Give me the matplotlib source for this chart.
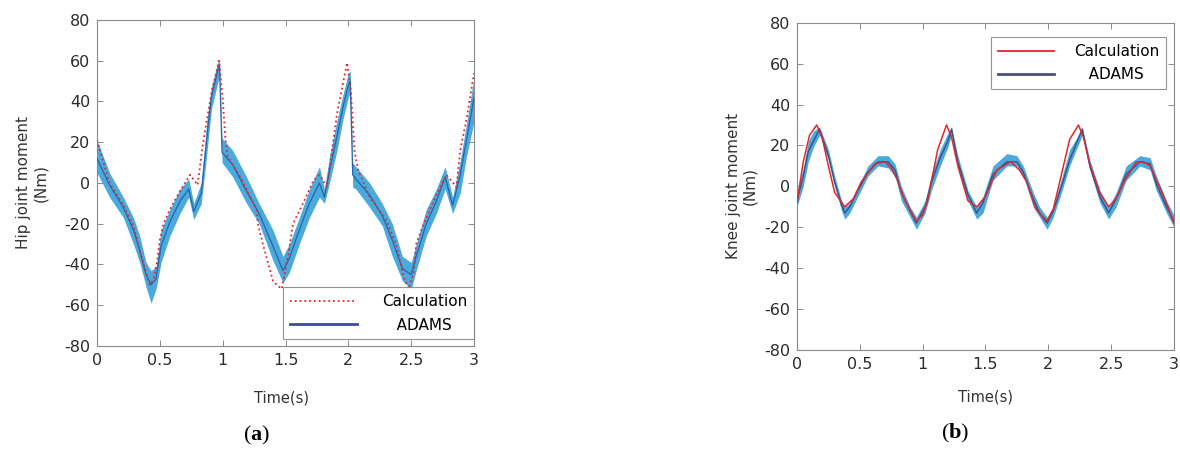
import matplotlib
matplotlib.use("Agg")
import matplotlib.pyplot as plt
from matplotlib.lines import Line2D

plt.rcParams["mathtext.fontset"] = "custom"
plt.rcParams["mathtext.rm"] = "Liberation Serif"
plt.rcParams["mathtext.bf"] = "Liberation Serif:bold"
plt.rcParams["axes.unicode_minus"] = False

# ---- (a) hip joint moment ----
hip_t_calc = [0, 0.1, 0.21, 0.29, 0.34, 0.39, 0.42, 0.45, 0.48, 0.5, 0.53, 0.58, 0.66,
              0.74, 0.8, 0.845, 0.91, 0.97, 1.0, 1.02, 1.04, 1.14, 1.27, 1.28, 1.32,
              1.40, 1.43, 1.47, 1.52, 1.56, 1.64, 1.72, 1.77, 1.83, 1.91, 1.99, 2.02,
              2.05, 2.08, 2.17, 2.3, 2.38, 2.44, 2.48, 2.52, 2.54, 2.6, 2.7, 2.78,
              2.86, 2.89, 2.94, 3.0]
hip_calc = [21, 0, -11, -21, -33, -44, -50, -47, -38, -28, -20, -13, -4,
            4, -1, 20, 44, 60, 42, 23, 13, 3, -13, -20, -30,
            -48, -50, -52, -36, -20, -10, 1, 4, -2, 34, 59, 45,
            15, 6, -7, -18, -30, -46, -52, -44, -30, -20, -6, 4,
            -2, 16, 31, 54]

hip_t_adams = [0, 0.1, 0.21, 0.29, 0.34, 0.39, 0.43, 0.47, 0.51, 0.58, 0.66, 0.73,
               0.77, 0.83, 0.875, 0.91, 0.96, 0.975, 0.995, 1.08, 1.19, 1.29, 1.40,
               1.48, 1.53, 1.61, 1.69, 1.77, 1.81, 1.85, 1.91, 1.96, 2.0, 2.015,
               2.035, 2.06, 2.17, 2.27, 2.35, 2.43, 2.5, 2.54, 2.62, 2.7, 2.77,
               2.83, 2.89, 2.94, 3.0]
hip_adams = [12, -1, -12, -23, -33, -45, -50, -47, -31, -19, -9, -3,
             -14, -5, 23, 42, 55, 58, 15, 9, -4, -15, -31,
             -43, -37, -23, -10, 0, -7, 6, 23, 38, 48, 50,
             4, 2, -6, -16, -28, -42, -45, -36, -20, -9, 3,
             -11, 4, 21, 42]
hip_adams_lo = [5, -7, -17, -30, -39, -51, -59, -52, -39, -26, -15, -7,
                -18, -10, 15, 36, 49, 52, 10, 3, -10, -20, -38,
                -49, -44, -30, -17, -7, -10, 0, 16, 32, 42, 44,
                -2, -3, -12, -21, -36, -48, -52, -43, -26, -15, -3,
                -15, -5, 13, 30]
hip_adams_hi = [21, 5, -7, -17, -26, -39, -43, -41, -23, -13, -3, 2,
                -10, 0, 31, 47, 59, 60, 22, 16, 3, -10, -23,
                -36, -30, -17, -3, 8, -3, 13, 31, 44, 54, 55,
                10, 8, 0, -10, -20, -36, -39, -30, -13, -3, 8,
                -7, 11, 29, 52]

# ---- (b) knee joint moment ----
knee_t_calc = [0, 0.05, 0.1, 0.157, 0.2, 0.25, 0.3, 0.38, 0.45, 0.51, 0.62, 0.7, 0.75,
               0.8, 0.86, 0.95, 1.0, 1.04, 1.12, 1.19, 1.23, 1.28, 1.36, 1.43, 1.5,
               1.59, 1.7, 1.77, 1.83, 1.9, 1.99, 2.04, 2.09, 2.17, 2.24, 2.28, 2.33,
               2.41, 2.48, 2.54, 2.6, 2.7, 2.76, 2.81, 2.92, 3.0]
knee_calc = [-8, 12, 25, 30, 24, 10, -3, -10, -6, 2, 11, 12, 9,
             3, -7, -17, -14, -7, 18, 30, 24, 10, -7, -10, -5,
             8, 12, 8, 2, -11, -17, -11, 2, 23, 30, 24, 11,
             -3, -10, -6, 2, 12, 12, 10, -5, -18]

knee_t_adams = [0, 0.05, 0.09, 0.13, 0.18, 0.25, 0.30, 0.355, 0.38, 0.42, 0.485, 0.565,
                0.645, 0.725, 0.78, 0.83, 0.90, 0.95, 1.02, 1.07, 1.14, 1.20, 1.23,
                1.28, 1.36, 1.43, 1.48, 1.56, 1.67, 1.75, 1.80, 1.88, 1.93, 1.99,
                2.04, 2.11, 2.17, 2.23, 2.27, 2.33, 2.41, 2.48, 2.54, 2.62, 2.73,
                2.81, 2.86, 2.94, 3.0]
knee_adams = [-7, 5, 17, 22, 28, 15, 2, -9, -13, -10, -2, 7,
              12, 12, 8, -3, -12, -18, -10, 2, 14, 22, 28,
              12, -4, -13, -8, 6, 12, 12, 7, -6, -13, -18,
              -12, 1, 13, 22, 28, 10, -5, -13, -6, 6, 12,
              11, 1, -10, -17]
knee_adams_lo = [-10, 0, 12, 19, 25, 13, 0, -12, -16, -13, -5, 5,
                 10, 9, 5, -7, -15, -21, -13, -2, 10, 19, 25,
                 10, -7, -16, -13, 3, 10, 10, 5, -10, -15, -21,
                 -15, -2, 10, 19, 25, 8, -8, -16, -10, 3, 10,
                 8, -2, -13, -20]
knee_adams_hi = [-3, 9, 22, 27, 29, 18, 5, -7, -10, -8, 0, 10,
                 15, 15, 11, 0, -10, -15, -7, 6, 18, 26, 29,
                 15, -2, -10, -5, 10, 16, 15, 10, -3, -10, -15,
                 -10, 5, 18, 24, 29, 13, -2, -10, -3, 10, 15,
                 14, 5, -7, -14]

xticks = [0, 0.5, 1, 1.5, 2, 2.5, 3]
xticklabels = ["0", "0.5", "1", "1.5", "2", "2.5", "3"]
yticks = [-80, -60, -40, -20, 0, 20, 40, 60, 80]

RED = "#e3262c"
CYAN = "#2a9bd6"

fig = plt.figure(figsize=(11.8, 4.49), dpi=100)
axa = fig.add_axes([0.0822, 0.2294, 0.3195, 0.7261])
axb = fig.add_axes([0.6754, 0.2205, 0.3195, 0.7289])


def style(ax):
    ax.set_xlim(0, 3)
    ax.set_ylim(-80, 80)
    ax.set_xticks(xticks)
    ax.set_xticklabels(xticklabels)
    ax.set_yticks(yticks)
    ax.tick_params(direction="in", length=4, width=0.6, color="#777777",
                   top=True, right=True, labelsize=11.5, labelcolor="#2b2b2b", pad=5)
    for s in ax.spines.values():
        s.set_color("#8a8a8a")
        s.set_linewidth(0.8)


# (a)
axa.fill_between(hip_t_adams, hip_adams_lo, hip_adams_hi, color=CYAN, alpha=0.85, lw=0, zorder=2)
axa.plot(hip_t_adams, hip_adams, color="#2a62a8", lw=0.9, zorder=3)
axa.plot(hip_t_calc, hip_calc, ":", color=RED, lw=1.3, zorder=4)
style(axa)
axa.set_xlabel("Time(s)", fontsize=10.5, color="#333333")
axa.xaxis.set_label_coords(0.49, -0.135)
axa.set_ylabel("Hip joint moment\n(Nm)", fontsize=11, color="#333333", linespacing=1.15)
axa.yaxis.set_label_coords(-0.13, 0.5)
ha = [Line2D([], [], ls=":", color=RED, lw=1.3),
      Line2D([], [], color="#3b4b9b", lw=2.0)]
leg = axa.legend(ha, ["Calculation", "   ADAMS"], loc="lower right",
                 bbox_to_anchor=(1.0, 0.02), fontsize=11, frameon=True, fancybox=False,
                 handlelength=4.4, handletextpad=1.6, borderpad=0.45, labelspacing=0.55,
                 borderaxespad=0.0)
leg.get_frame().set_edgecolor("#7a7a7a")
leg.get_frame().set_linewidth(0.8)
leg.set_zorder(5)

# (b)
axb.fill_between(knee_t_adams, knee_adams_lo, knee_adams_hi, color=CYAN, alpha=0.85, lw=0, zorder=2)
axb.plot(knee_t_adams, knee_adams, color="#3b4f86", lw=1.0, zorder=3)
axb.plot(knee_t_calc, knee_calc, "-", color=RED, lw=1.1, zorder=4)
style(axb)
axb.set_xlabel("Time(s)", fontsize=10.5, color="#333333")
axb.xaxis.set_label_coords(0.5, -0.12)
axb.set_ylabel("Knee joint moment\n(Nm)", fontsize=11, color="#333333", linespacing=1.15)
axb.yaxis.set_label_coords(-0.105, 0.5)
hb = [Line2D([], [], color=RED, lw=1.3),
      Line2D([], [], color="#4a5078", lw=2.0)]
leg = axb.legend(hb, ["Calculation", "   ADAMS"], loc="upper right",
                 bbox_to_anchor=(0.979, 0.956), fontsize=11, frameon=True, fancybox=False,
                 handlelength=3.7, handletextpad=1.3, borderpad=0.45, labelspacing=0.55,
                 borderaxespad=0.0)
leg.get_frame().set_edgecolor("#7a7a7a")
leg.get_frame().set_linewidth(0.8)

fig.text(257 / 1180, 1 - 435 / 449, r"($\mathbf{a}$)", fontsize=16, family="Liberation Serif",
         ha="center", va="center")
fig.text(955 / 1180, 1 - 433 / 449, r"($\mathbf{b}$)", fontsize=16, family="Liberation Serif",
         ha="center", va="center")

fig.savefig("out.png", dpi=100)
